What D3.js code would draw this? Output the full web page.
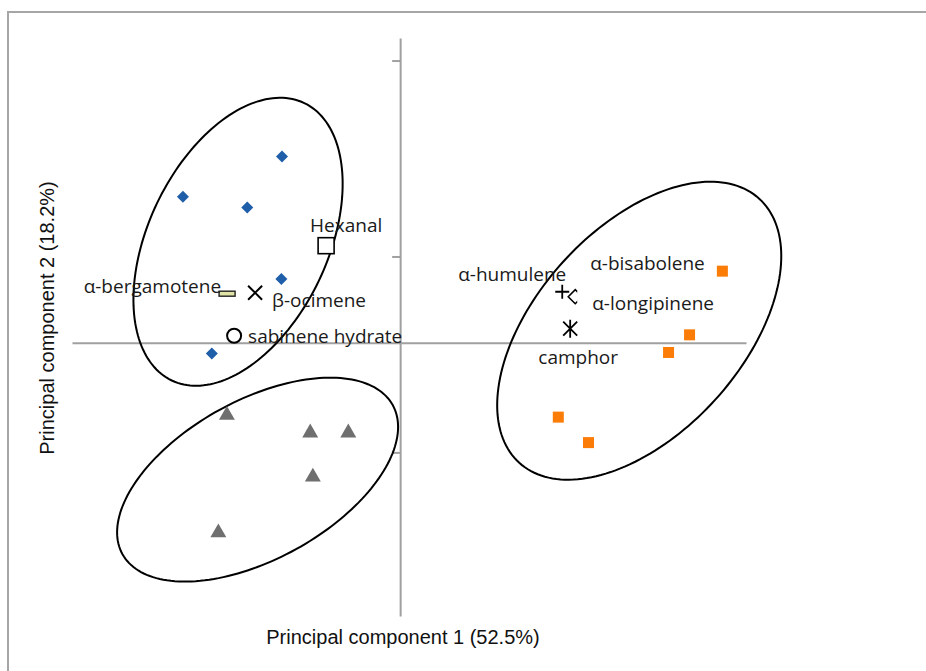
<!DOCTYPE html>
<html>
<head>
<meta charset="utf-8">
<script src="https://cdn.jsdelivr.net/npm/d3@7"></script>
<style>
  html, body { margin: 0; padding: 0; background: #fff; }
  svg { display: block; }
</style>
</head>
<body>
<svg id="chart" width="926" height="671"></svg>
<script>
// PCA score plot: three sample groups with confidence ellipses, plus volatile loadings

// Sample scores (PC1, PC2)
const groupA = [[-1.80, 1.90], [-3.31, 1.49], [-2.33, 1.38], [-1.81, 0.65], [-2.87, -0.11]];
const groupB = [[4.91, 0.73], [4.41, 0.08], [4.09, -0.10], [2.41, -0.76], [2.87, -1.02]];
const groupC = [[-2.64, -0.74], [-1.37, -0.92], [-0.79, -0.92], [-1.33, -1.37], [-2.77, -1.94]];

// Volatile compound loadings
const compoundNames = ["Hexanal", "α-bergamotene", "β-ocimene", "sabinene hydrate",
                       "α-humulene", "α-longipinene", "α-bisabolene", "camphor"];
const compoundPC1 = [-1.128, -2.637, -2.210, -2.530, 2.470, 2.668, 2.774, 2.591];
const compoundPC2 = [0.990, 0.500, 0.510, 0.071, 0.520, 0.469, 0.469, 0.143];

// Ellipses: centre and two conjugate semi-axis vectors, in score units
const ellipseCentres = [[-2.47, 1.03], [3.643, 0.122], [-2.172, -1.398]];
const ellipseAxisU = [[1.009, 1.416], [1.828, 1.348], [2.059, 0.761]];
const ellipseAxisV = [[-1.234, 0.394], [-1.159, 0.704], [-0.586, 0.710]];

// Axis ranges and PC2 tick positions
const pc1Range = [-5, 5.27];
const pc2Range = [-2.79, 3.11];
const pc2Ticks = [2.88, 0.88, -1.12];

const xTitle = "Principal component 1 (52.5%)";
const yTitle = "Principal component 2 (18.2%)";

// ---- drawing ----
const svg = d3.select("#chart");
const x = d3.scaleLinear().domain(pc1Range).range([72, 746]);
const y = d3.scaleLinear().domain(pc2Range).range([616, 38]);

// outer frame
svg.append("rect")
  .attr("x", 8).attr("y", 12)
  .attr("width", 940).attr("height", 680)
  .attr("fill", "none").attr("stroke", "#a6a6a6").attr("stroke-width", 2);

const axisColor = "#a0a0a0";

// horizontal axis (PC2 = 0)
svg.append("g")
  .attr("transform", `translate(0,${y(0)})`)
  .call(d3.axisBottom(x).tickValues([]).tickSizeOuter(0))
  .call(g => g.select(".domain").attr("stroke", axisColor).attr("stroke-width", 2));

// vertical axis (PC1 = 0) with left ticks
svg.append("g")
  .attr("transform", `translate(${x(0)},0)`)
  .call(d3.axisLeft(y).tickValues(pc2Ticks).tickSize(8).tickSizeOuter(0).tickFormat(""))
  .call(g => g.select(".domain").attr("stroke", axisColor).attr("stroke-width", 2))
  .call(g => g.selectAll(".tick line").attr("stroke", axisColor).attr("stroke-width", 2));

// ellipses
const ellipseLine = d3.line().x(d => x(d[0])).y(d => y(d[1])).curve(d3.curveLinearClosed);
ellipseCentres.forEach((c, i) => {
  const u = ellipseAxisU[i], v = ellipseAxisV[i];
  const pts = d3.range(0, 360, 2).map(deg => {
    const t = deg * Math.PI / 180;
    return [c[0] + u[0] * Math.cos(t) + v[0] * Math.sin(t),
            c[1] + u[1] * Math.cos(t) + v[1] * Math.sin(t)];
  });
  svg.append("path").attr("d", ellipseLine(pts))
    .attr("fill", "none").attr("stroke", "#000").attr("stroke-width", 2);
});

// sample groups
svg.append("g").selectAll("path").data(groupA).join("path")
  .attr("transform", d => `translate(${x(d[0])},${y(d[1])}) rotate(45)`)
  .attr("d", d3.symbol(d3.symbolSquare, 72)())
  .attr("fill", "#1f5ea8");

svg.append("g").selectAll("rect").data(groupB).join("rect")
  .attr("x", d => x(d[0]) - 5.5).attr("y", d => y(d[1]) - 5.5)
  .attr("width", 11).attr("height", 11)
  .attr("fill", "#fb7d07");

svg.append("g").selectAll("path").data(groupC).join("path")
  .attr("transform", d => `translate(${x(d[0])},${y(d[1])})`)
  .attr("d", d3.symbol(d3.symbolTriangle, 110)())
  .attr("fill", "#6f6f6f");

// loading markers, one shape per compound
const markerShapes = {
  "Hexanal": g => g.append("rect").attr("x", -8).attr("y", -8).attr("width", 16).attr("height", 16)
      .attr("fill", "#fff").attr("stroke", "#000").attr("stroke-width", 1.6),
  "α-bergamotene": g => g.append("rect").attr("x", -8).attr("y", -2.5).attr("width", 16).attr("height", 5)
      .attr("fill", "#dfe4a6").attr("stroke", "#222").attr("stroke-width", 1.4),
  "β-ocimene": g => g.append("path").attr("d", "M-7,-7L7,7M-7,7L7,-7")
      .attr("stroke", "#000").attr("stroke-width", 2).attr("fill", "none"),
  "sabinene hydrate": g => g.append("circle").attr("r", 7)
      .attr("fill", "#fff").attr("stroke", "#000").attr("stroke-width", 2),
  "α-humulene": g => g.append("path").attr("d", "M-7,0L7,0M0,-7L0,7")
      .attr("stroke", "#000").attr("stroke-width", 1.8).attr("fill", "none"),
  "α-longipinene": g => g.append("path").attr("d", "M-7,0L0,-7L7,0L0,7Z")
      .attr("stroke", "#000").attr("stroke-width", 1.6).attr("fill", "#fff"),
  "α-bisabolene": g => g.append("rect").attr("x", -5).attr("y", -6).attr("width", 10).attr("height", 12)
      .attr("fill", "#fff"),
  "camphor": g => g.append("path").attr("d", "M-7,-7L7,7M-7,7L7,-7M0,-9L0,9")
      .attr("stroke", "#000").attr("stroke-width", 1.8).attr("fill", "none")
};

// label placement relative to each marker (pixels)
const labelPlacement = {
  "Hexanal": { dx: -16, dy: -21, anchor: "start" },
  "α-bergamotene": { dx: -6, dy: -8, anchor: "end" },
  "β-ocimene": { dx: 17, dy: 7, anchor: "start" },
  "sabinene hydrate": { dx: 14, dy: 0, anchor: "start" },
  "α-humulene": { dx: 4, dy: -18, anchor: "end" },
  "α-longipinene": { dx: 17, dy: 6, anchor: "start" },
  "α-bisabolene": { dx: 8, dy: -34, anchor: "start" },
  "camphor": { dx: 8, dy: 28, anchor: "middle" }
};

const compounds = compoundNames.map((n, i) => ({ name: n, pc1: compoundPC1[i], pc2: compoundPC2[i] }));

const markerG = svg.append("g");
compounds.forEach(d => {
  const g = markerG.append("g").attr("transform", `translate(${x(d.pc1)},${y(d.pc2)})`);
  markerShapes[d.name](g);
});

const labelG = svg.append("g")
  .attr("font-family", "'Open Sans', 'Noto Sans', sans-serif")
  .attr("font-size", 19).attr("fill", "#1a1a1a");
compounds.forEach(d => {
  const p = labelPlacement[d.name];
  labelG.append("text")
    .attr("x", x(d.pc1) + p.dx).attr("y", y(d.pc2) + p.dy)
    .attr("dominant-baseline", "central")
    .attr("text-anchor", p.anchor)
    .text(d.name);
});

// axis titles
svg.append("text")
  .attr("x", 403).attr("y", 637)
  .attr("text-anchor", "middle").attr("dominant-baseline", "central")
  .attr("font-family", "'Liberation Sans', Arial, sans-serif")
  .attr("font-size", 20).attr("fill", "#111")
  .text(xTitle);

svg.append("text")
  .attr("transform", "translate(47,318) rotate(-90)")
  .attr("text-anchor", "middle").attr("dominant-baseline", "central")
  .attr("font-family", "'Liberation Sans', Arial, sans-serif")
  .attr("font-size", 20).attr("fill", "#111")
  .text(yTitle);
</script>
</body>
</html>
